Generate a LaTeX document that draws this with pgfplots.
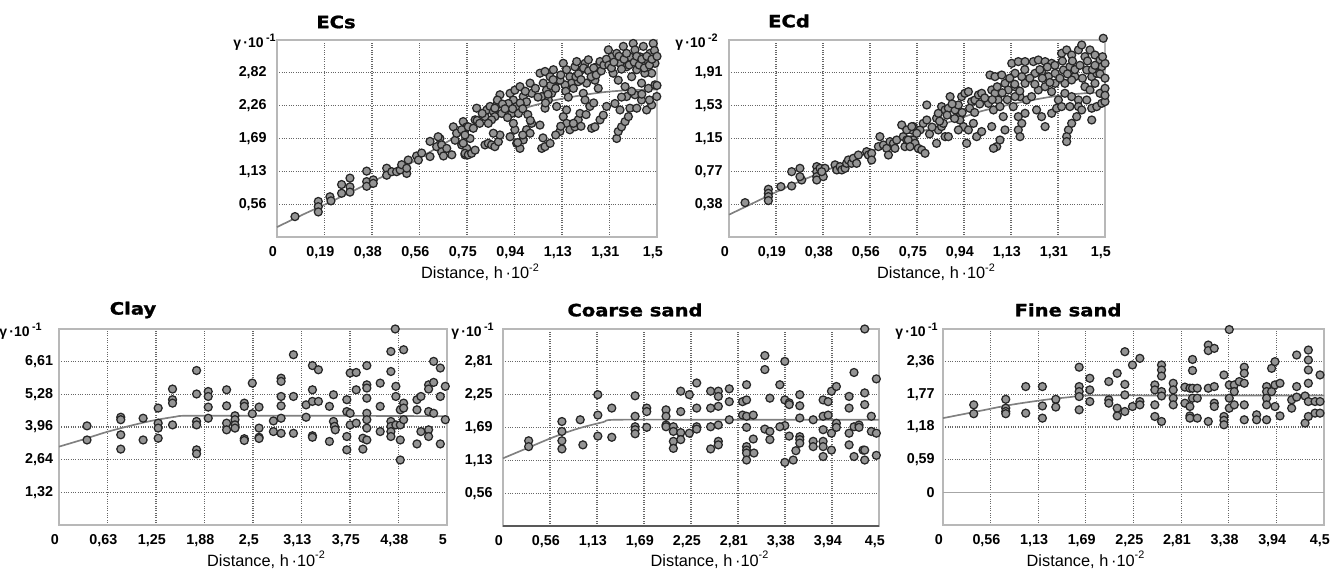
\documentclass[border=0pt]{standalone}
\usepackage{fontspec}
\setmainfont{Liberation Sans}
\newfontfamily\titlefont{DejaVu Sans}[BoldFeatures={FakeBold=1.2}]
\usepackage{pgfplots}
\pgfplotsset{compat=1.18}
\pgfplotsset{
  vario/.style={
    scale only axis, clip=false,
    axis line style={draw=black!28, line width=1pt},
    grid=major,
    major grid style={densely dotted, draw=black!60, line width=0.7pt},
    major tick length=0pt,
    tick style={draw=none},
    tick label style={font=\bfseries\fontsize{8.6}{10}\selectfont, inner sep=0pt},
    xticklabel style={anchor=base, yshift=-12pt, xshift=-2.5pt},
    yticklabel style={anchor=east},
  },
  pts/.style={only marks, mark=*, mark size=2.4pt, mark options={fill=black!42, draw=black!85, line width=0.75pt}},
  fit/.style={no marks, draw=black!50, line width=1pt, smooth},
}
\newcommand{\ylab}[1]{γ\,·10\,\raisebox{0.9ex}{\fontsize{6.5}{7}\selectfont #1}}
\newcommand{\xlab}{Distance, h\,·10\raisebox{0.9ex}{\fontsize{6.5}{7}\selectfont -2}}
\begin{document}
\begin{tikzpicture}
\path[use as bounding box] (0pt,0pt) rectangle (799.8pt,341.4pt);
%================ ECs
\begin{axis}[vario, at={(166.2pt,199.2pt)}, anchor=south west, width=228pt, height=118.2pt,
  xmin=0, xmax=1.5, ymin=0, ymax=3.38,
  xtick={0,0.1875,0.375,0.5625,0.75,0.9375,1.125,1.3125,1.5},
  xticklabels={{0},{0,19},{0,38},{0,56},{0,75},{0,94},{1,13},{1,31},{1,5}},
  ytick={0.5633,1.1267,1.69,2.2533,2.8167},
  yticklabels={{0,56},{1,13},{1,69},{2,26},{2,82}},
  yticklabel style={xshift=-6pt}]
\addplot[fit] coordinates {(0,0.17)(0.1,0.38)(0.2,0.58)(0.3,0.79)(0.4,1.0)(0.5,1.2)(0.6,1.45)(0.7,1.7)(0.8,1.92)(0.9,2.1)(1.0,2.24)(1.1,2.35)(1.2,2.43)(1.3,2.49)(1.4,2.52)(1.5,2.53)};
\addplot[pts] coordinates {
(0.071,0.35)(0.163,0.61)(0.163,0.52)(0.163,0.43)(0.209,0.69)(0.213,0.62)(0.255,0.90)(0.255,0.75)(0.288,1.01)(0.288,0.86)(0.288,0.77)(0.354,1.13)(0.354,0.95)(0.354,0.87)(0.380,0.98)(0.380,0.92)(0.433,1.18)(0.433,1.06)(0.453,1.12)(0.472,1.12)(0.486,1.15)(0.492,1.24)(0.512,1.09)(0.518,1.32)(0.512,1.18)(0.551,1.39)(0.558,1.32)(0.571,1.44)(0.604,1.64)(0.604,1.38)(0.630,1.55)(0.643,1.69)(0.650,1.58)(0.650,1.46)(0.657,1.39)(0.670,1.52)(0.690,1.41)(0.696,1.89)(0.703,1.66)(0.709,1.78)(0.729,1.58)(0.735,1.98)(0.742,1.84)(0.742,1.41)(0.749,1.89)(0.749,1.52)(0.636,1.72)
(0.729,1.84)(0.735,1.61)(0.742,1.435)(0.755,1.41)(0.768,1.435)(0.782,1.49)(0.755,1.89)(0.775,1.865)(0.782,2.01)(0.788,2.21)(0.762,1.69)(0.742,1.75)
(0.821,2.065)(0.828,2.18)(0.841,2.24)(0.854,2.15)(0.860,2.065)(0.867,2.265)(0.880,2.44)(0.887,2.12)(0.847,2.01)(0.834,1.95)(0.860,2.21)
(0.821,1.58)(0.834,1.607)(0.847,1.58)(0.860,1.55)(0.874,1.635)(0.880,1.75)(0.854,1.78)
(0.920,2.465)(0.933,2.35)(0.946,2.24)(0.939,2.52)(0.959,2.58)(0.972,2.41)(0.985,2.32)(0.999,2.64)(1.005,2.465)(0.926,2.12)(0.953,2.12)(0.913,2.29)
(0.920,1.72)(0.939,1.84)(0.946,1.607)(0.959,1.52)(0.972,1.665)(0.985,1.84)(0.999,1.78)(1.005,1.95)(0.933,1.95)
(1.038,2.81)(1.058,2.84)(1.078,2.75)(1.091,2.87)(1.051,2.64)(1.064,2.52)(1.045,2.41)(1.071,2.35)(1.084,2.465)(1.097,2.64)(1.110,2.69)(1.104,2.24)(1.058,2.21)(1.038,1.92)
(1.045,1.52)(1.058,1.55)(1.078,1.607)
(1.130,2.98)(1.143,2.87)(1.156,2.75)(1.176,2.92)(1.183,3.01)(1.163,2.64)(1.137,2.61)(1.117,2.69)(1.189,2.665)
(1.130,2.065)(1.143,1.95)(1.156,1.84)(1.176,1.89)(1.189,2.01)(1.143,2.18)(1.117,1.81)
(1.203,2.87)(1.216,2.98)(1.229,3.04)(1.242,2.81)(1.262,2.92)(1.275,3.01)(1.255,2.69)(1.222,2.64)(1.268,2.55)(1.209,2.465)(1.216,2.35)(1.235,2.24)(1.242,1.865)(1.255,1.89)(1.275,2.01)(1.288,2.09)(1.301,2.24)(1.196,2.12)
(1.308,3.21)(1.321,3.09)(1.341,3.15)(1.354,2.98)(1.367,3.27)(1.380,2.92)(1.393,3.09)(1.406,3.32)(1.327,2.81)(1.347,2.69)(1.374,2.58)(1.400,2.75)
(1.341,1.69)(1.347,1.81)(1.360,1.89)(1.374,1.98)(1.387,2.065)(1.334,2.29)(1.354,2.18)(1.393,2.21)(1.380,2.41)
(1.413,3.21)(1.433,3.09)(1.446,3.27)(1.459,3.04)(1.472,3.15)(1.485,3.32)(1.492,2.98)(1.479,2.81)(1.452,2.81)(1.420,2.87)(1.439,2.64)(1.466,2.55)(1.492,2.61)(1.439,2.35)(1.459,2.18)(1.479,2.265)(1.499,2.41)(1.420,2.21)(1.413,2.44)
(0.79,2.0)(0.80,1.95)(0.81,2.12)(0.87,2.35)(0.89,2.28)(0.90,2.2)(0.91,2.05)(0.93,2.2)(0.96,2.3)(0.97,2.2)(0.98,2.5)(0.99,2.1)(1.0,2.0)(1.02,2.55)(1.03,2.4)(1.06,2.3)(1.07,2.45)(1.08,2.6)(1.09,2.7)(1.10,2.55)(1.12,2.78)(1.14,2.5)(1.15,2.4)(1.17,2.55)(1.18,2.75)(1.19,2.8)(1.20,2.7)(1.21,2.9)(1.23,2.85)(1.24,2.75)(1.25,2.9)(1.26,2.78)(1.28,2.85)(1.29,2.95)(1.30,3.05)(1.31,2.95)(1.32,2.9)(1.33,3.0)(1.35,3.1)(1.36,2.88)(1.37,3.05)(1.38,3.15)(1.39,2.95)(1.41,3.0)(1.42,3.1)(1.43,2.95)(1.44,3.05)(1.45,2.9)(1.46,3.1)(1.47,2.95)(1.48,3.05)(1.49,3.2)(1.50,3.1)(1.50,2.6)(1.36,2.4)(1.40,2.5)(1.44,2.45)(1.47,2.35)(1.22,2.1)(1.25,2.3)(1.20,1.9)(1.17,1.95)(1.12,1.9)(1.10,1.75)(1.05,1.7)(0.97,1.75)(0.95,1.62)
};
\end{axis}
%================ ECd
\begin{axis}[vario, at={(437.4pt,199.2pt)}, anchor=south west, width=225.6pt, height=118.2pt,
  xmin=0, xmax=1.5, ymin=0, ymax=2.295,
  xtick={0,0.1875,0.375,0.5625,0.75,0.9375,1.125,1.3125,1.5},
  xticklabels={{0},{0,19},{0,38},{0,56},{0,75},{0,94},{1,13},{1,31},{1,5}},
  ytick={0.3825,0.765,1.1475,1.53,1.9125},
  yticklabels={{0,38},{0,77},{1,15},{1,53},{1,91}},
  yticklabel style={xshift=-3.6pt}]
\addplot[fit] coordinates {(0,0.26)(0.1,0.40)(0.2,0.54)(0.3,0.67)(0.4,0.79)(0.5,0.91)(0.6,1.04)(0.7,1.15)(0.8,1.26)(0.9,1.36)(1.0,1.46)(1.1,1.53)(1.2,1.59)(1.3,1.64)(1.4,1.67)(1.5,1.69)};
\addplot[pts] coordinates {
(0.064,0.40)(0.157,0.556)(0.157,0.509)(0.157,0.47)(0.157,0.424)(0.207,0.587)
(0.250,0.761)(0.250,0.594)(0.283,0.80)(0.290,0.664)(0.283,0.703)
(0.350,0.82)(0.350,0.761)(0.350,0.703)(0.350,0.664)(0.363,0.80)(0.376,0.703)(0.383,0.80)(0.370,0.761)
(0.423,0.84)(0.430,0.781)(0.443,0.82)(0.450,0.781)(0.463,0.80)(0.469,0.858)(0.476,0.897)(0.489,0.858)(0.496,0.917)(0.509,0.858)(0.516,0.955)(0.549,0.994)(0.556,0.955)(0.569,0.975)(0.569,0.897)
(0.602,1.169)(0.596,1.053)(0.616,1.072)(0.629,1.033)(0.636,0.955)(0.642,1.111)(0.656,1.091)(0.662,1.033)(0.669,1.13)(0.689,1.305)(0.695,1.169)(0.702,1.053)(0.709,1.13)(0.729,1.247)(0.735,1.286)(0.735,1.13)
(0.709,1.247)(0.715,1.13)(0.729,1.286)(0.742,1.091)(0.755,1.033)(0.769,1.014)(0.782,0.975)(0.762,1.247)(0.775,1.324)(0.789,1.363)(0.749,1.208)(0.722,1.053)(0.789,1.538)
(0.828,1.383)(0.835,1.441)(0.848,1.519)(0.862,1.48)(0.875,1.5)(0.882,1.635)(0.835,1.247)(0.848,1.286)(0.862,1.169)(0.875,1.169)(0.828,1.091)(0.855,1.324)
(0.902,1.48)(0.915,1.538)(0.921,1.402)(0.928,1.635)(0.941,1.674)(0.955,1.693)(0.968,1.577)(0.981,1.596)(0.995,1.655)(1.008,1.674)(0.935,1.286)(0.955,1.247)(0.975,1.324)(0.988,1.169)(1.008,1.228)(0.915,1.247)(0.948,1.091)(0.921,1.363)
(1.041,1.887)(1.061,1.868)(1.088,1.887)(1.048,1.713)(1.061,1.674)(1.074,1.596)(1.035,1.557)(1.055,1.48)(1.081,1.519)(1.101,1.79)(1.094,1.402)(1.101,1.247)(1.048,1.286)(1.068,1.053)(1.055,1.033)(1.081,1.13)
(1.128,2.023)(1.154,2.043)(1.181,2.043)(1.141,1.907)(1.168,1.868)(1.114,1.713)(1.141,1.751)(1.161,1.635)(1.187,1.596)(1.181,1.79)(1.134,1.519)(1.154,1.402)(1.168,1.324)(1.154,1.247)(1.161,1.169)(1.181,1.441)(1.141,1.635)
(1.214,2.043)(1.234,2.062)(1.261,2.043)(1.287,2.023)(1.221,1.907)(1.247,1.926)(1.274,1.868)(1.301,1.907)(1.234,1.713)(1.261,1.751)(1.287,1.693)(1.227,1.48)(1.247,1.402)(1.261,1.286)(1.287,1.441)(1.307,1.5)(1.314,1.596)(1.207,1.635)(1.301,1.79)
(1.327,2.14)(1.347,2.179)(1.367,2.12)(1.394,2.179)(1.407,2.237)(1.334,1.946)(1.360,1.984)(1.380,1.868)(1.340,1.79)(1.367,1.829)(1.340,1.674)(1.367,1.635)(1.394,1.596)(1.327,1.519)(1.360,1.519)(1.354,1.247)(1.347,1.169)(1.347,1.111)(1.367,1.324)(1.387,1.402)(1.394,1.519)
(1.420,2.101)(1.440,2.179)(1.460,2.12)(1.480,2.062)(1.493,2.315)(1.427,1.946)(1.447,1.868)(1.467,1.907)(1.487,1.984)(1.500,2.023)(1.420,1.751)(1.440,1.713)(1.460,1.79)(1.480,1.674)(1.500,1.732)(1.427,1.596)(1.447,1.5)(1.467,1.519)(1.487,1.557)(1.500,1.577)(1.447,1.363)(1.407,1.48)
(0.80,1.2)(0.81,1.28)(0.84,1.35)(0.87,1.42)(0.89,1.55)(0.90,1.38)(0.93,1.45)(0.96,1.5)(0.98,1.45)(1.0,1.55)(1.02,1.62)(1.05,1.6)(1.07,1.75)(1.09,1.68)(1.11,1.6)(1.12,1.85)(1.14,1.78)(1.16,1.7)(1.18,1.95)(1.20,1.85)(1.22,1.78)(1.24,1.95)(1.25,1.85)(1.27,1.98)(1.28,1.8)(1.30,2.0)(1.32,1.85)(1.33,2.05)(1.35,1.9)(1.37,2.05)(1.38,1.95)(1.40,2.0)(1.41,1.85)(1.43,2.05)(1.45,1.95)(1.46,2.0)(1.48,1.9)(1.49,2.1)(1.5,1.85)(1.5,1.65)
};
\end{axis}
%================ Clay
\begin{axis}[vario, at={(35.4pt,26.4pt)}, anchor=south west, width=232.8pt, height=117.6pt,
  xmin=0, xmax=5, ymin=0, ymax=7.93,
  xtick={0,0.625,1.25,1.875,2.5,3.125,3.75,4.375,5},
  xticklabels={{0},{0,63},{1,25},{1,88},{2,5},{3,13},{3,75},{4,38},{5}},
  ytick={1.3217,2.6433,3.965,5.2867,6.6083},
  yticklabels={{1,32},{2,64},{3,96},{5,28},{6,61}},
  yticklabel style={xshift=-3.4pt}]
\addplot[fit] coordinates {(0,3.17)(0.3,3.45)(0.6,3.75)(0.9,4.0)(1.2,4.22)(1.5,4.38)(1.65,4.42)(2.5,4.42)(3.5,4.42)(5,4.40)};
\addplot[pts] coordinates {
(0.361,4.01)(0.361,3.44)(0.796,4.36)(0.796,4.26)(0.796,3.65)(0.796,3.07)(1.084,4.32)(1.084,3.44)
(1.278,4.73)(1.278,4.12)(1.278,3.92)(1.278,3.51)(1.463,5.50)(1.463,5.07)(1.463,4.93)(1.463,4.05)
(1.773,6.25)(1.773,5.30)(1.773,4.19)(1.773,4.05)(1.773,3.04)(1.773,2.88)(1.923,5.40)(1.923,5.20)(1.923,4.77)(1.923,4.32)
(2.160,5.47)(2.160,4.82)(2.160,4.12)(2.160,3.85)(2.268,4.42)(2.268,4.26)(2.268,4.05)(2.268,3.92)
(2.388,4.93)(2.388,4.80)(2.388,3.49)(2.388,3.42)(2.491,5.74)(2.491,4.50)(2.578,4.77)(2.578,3.92)(2.578,3.55)(2.578,3.50)
(2.763,4.21)(2.763,3.78)(2.862,5.94)(2.862,5.81)(2.862,5.20)(2.862,4.82)(2.862,4.32)(2.862,3.71)
(3.021,6.89)(3.021,5.20)(3.021,3.71)(3.184,4.86)(3.184,4.36)(3.266,6.45)(3.266,5.47)(3.266,5.00)(3.266,3.61)(3.266,3.55)
(3.343,6.28)(3.343,5.00)(3.485,4.80)(3.485,3.38)(3.537,5.27)(3.537,4.19)(3.55,3.99)(3.56,3.85)
(3.709,5.07)(3.709,4.59)(3.709,3.58)(3.709,3.04)(3.752,6.15)(3.752,4.52)(3.752,4.05)(3.830,6.17)(3.830,5.47)(3.830,4.12)
(3.916,3.51)(3.916,3.07)(3.967,6.45)(3.967,5.67)(3.967,5.54)(3.967,5.13)(3.967,4.52)(3.967,4.26)(3.967,3.92)(3.967,3.44)
(4.139,5.74)(4.139,4.80)(4.139,3.78)(4.277,7.02)(4.277,6.21)(4.277,4.19)(4.277,3.99)(4.277,3.78)(4.277,3.58)
(4.333,7.93)(4.341,5.61)(4.341,5.20)(4.341,4.05)(4.398,4.66)(4.398,4.05)(4.398,3.44)(4.398,2.63)
(4.441,7.09)(4.441,4.93)(4.441,4.73)(4.441,4.26)(4.613,5.07)(4.613,4.66)(4.613,3.28)(4.664,5.20)(4.664,3.78)
(4.763,5.67)(4.763,5.50)(4.763,4.59)(4.763,3.85)(4.763,3.58)(4.828,6.62)(4.828,5.77)(4.828,4.52)
(4.914,6.35)(4.914,5.20)(4.914,3.28)(4.978,5.61)(4.978,4.26)
};
\end{axis}
%================ Coarse sand
\begin{axis}[vario, at={(301.8pt,25.8pt)}, anchor=south west, width=225.6pt, height=118.2pt,
  xmin=0, xmax=4.5, ymin=0, ymax=3.375,
  xtick={0,0.5625,1.125,1.6875,2.25,2.8125,3.375,3.9375,4.5},
  xticklabels={{0},{0,56},{1,13},{1,69},{2,25},{2,81},{3,38},{3,94},{4,5}},
  ytick={0.5625,1.125,1.6875,2.25,2.8125},
  yticklabels={{0,56},{1,13},{1,69},{2,25},{2,81}},
  yticklabel style={xshift=-6pt}]
\draw[black!65, line width=1pt] (axis cs:0,0) -- (axis cs:4.5,0);
\addplot[fit] coordinates {(0,1.16)(0.3,1.34)(0.6,1.52)(0.9,1.67)(1.2,1.78)(1.35,1.82)(2.5,1.82)(3.5,1.82)(4.5,1.82)};
\addplot[pts] coordinates {
(0.307,1.46)(0.307,1.36)(0.705,1.79)(0.705,1.62)(0.705,1.46)(0.705,1.32)(0.924,1.82)(0.956,1.39)
(1.135,2.25)(1.135,1.90)(1.135,1.54)(1.302,2.02)(1.302,1.52)
(1.581,2.23)(1.581,1.88)(1.581,1.70)(1.581,1.65)(1.581,1.58)(1.720,2.02)(1.720,1.96)(1.720,1.69)
(1.951,1.99)(1.951,1.88)(1.951,1.73)(1.951,1.70)(2.039,1.70)(2.039,1.62)(2.039,1.45)(2.039,1.33)
(2.127,2.31)(2.127,1.96)(2.127,1.60)(2.127,1.48)(2.230,2.25)(2.230,1.59)(2.318,2.45)(2.318,2.02)(2.318,1.70)(2.318,1.66)
(2.485,2.31)(2.485,2.02)(2.485,1.70)(2.485,1.32)(2.577,2.31)(2.577,2.22)(2.577,2.05)(2.577,1.73)(2.577,1.45)(2.577,1.39)
(2.708,2.35)(2.708,2.13)(2.708,1.82)(2.867,2.13)(2.867,1.90)(2.915,2.42)(2.915,2.16)(2.915,1.88)(2.915,1.69)(2.915,1.36)(2.915,1.30)(2.915,1.25)(2.915,1.13)(2.995,1.90)(2.995,1.49)(3.003,1.25)
(3.134,2.92)(3.134,2.68)(3.134,1.66)(3.194,2.19)(3.194,1.62)(3.194,1.48)(3.373,2.82)(3.373,2.16)(3.373,1.72)(3.373,1.09)(3.313,2.42)(3.313,1.70)
(3.425,2.11)(3.425,2.08)(3.425,1.54)(3.473,1.13)(3.505,1.29)(3.552,2.25)(3.552,2.06)(3.552,1.85)(3.552,1.53)(3.552,1.48)(3.552,1.42)
(3.712,1.82)(3.712,1.45)(3.712,1.36)(3.831,2.16)(3.831,1.88)(3.831,1.65)(3.831,1.45)(3.831,1.36)(3.831,1.19)(3.891,2.13)(3.891,1.90)
(3.931,2.31)(3.931,1.59)(3.931,1.30)(3.990,2.39)(3.990,1.76)(3.990,1.69)(4.142,2.22)(4.142,2.02)(4.142,1.59)(4.142,1.39)
(4.201,2.63)(4.201,1.70)(4.201,1.19)(4.261,1.73)(4.261,1.69)(4.309,1.30)(4.329,3.375)(4.329,2.28)(4.329,2.08)(4.329,1.30)(4.329,1.13)
(4.408,1.88)(4.408,1.62)(4.468,2.52)(4.468,1.59)(4.468,1.21)
};
\end{axis}
%================ Fine sand
\begin{axis}[vario, at={(565.8pt,26.4pt)}, anchor=south west, width=228.6pt, height=117.6pt,
  xmin=0, xmax=4.5, ymin=-0.59, ymax=2.95,
  xtick={0,0.5625,1.125,1.6875,2.25,2.8125,3.375,3.9375,4.5},
  xticklabels={{0},{0,56},{1,13},{1,69},{2,25},{2,81},{3,38},{3,94},{4,5}},
  ytick={0,0.59,1.18,1.77,2.36},
  yticklabels={{0},{0,59},{1,18},{1,77},{2,36}},
  yticklabel style={xshift=-4.8pt}]
\draw[black!35, line width=0.8pt] (axis cs:0,0) -- (axis cs:4.5,0);
\addplot[fit] coordinates {(0,1.34)(0.4,1.46)(0.8,1.58)(1.2,1.67)(1.5,1.72)(1.7,1.75)(2.5,1.75)(3.5,1.75)(4.5,1.75)};
\addplot[pts] coordinates {
(0.363,1.58)(0.363,1.42)(0.741,1.68)(0.741,1.52)(0.741,1.46)(0.741,1.42)(0.977,1.91)(0.977,1.43)
(1.174,1.91)(1.174,1.56)(1.174,1.34)(1.332,1.68)(1.332,1.54)
(1.608,2.26)(1.608,1.91)(1.608,1.82)(1.608,1.73)(1.608,1.49)(1.734,2.06)(1.734,1.85)(1.734,1.64)
(1.958,2.00)(1.958,1.67)(1.958,1.61)(2.057,2.15)(2.057,1.52)(2.057,1.38)(2.148,2.54)(2.148,1.95)(2.148,1.76)(2.148,1.46)
(2.238,2.30)(2.238,1.55)(2.325,2.42)(2.325,1.64)(2.325,1.58)(2.502,1.94)(2.502,1.85)(2.502,1.58)(2.502,1.37)
(2.581,2.30)(2.581,2.21)(2.581,2.10)(2.581,1.82)(2.581,1.74)(2.581,1.28)(2.719,1.97)(2.719,1.85)(2.719,1.70)(2.719,1.58)
(2.857,1.90)(2.857,1.61)(2.916,1.88)(2.916,1.55)(2.916,1.38)(2.916,1.34)(2.947,2.40)(2.947,2.20)(2.947,1.88)(2.947,1.70)
(3.003,1.88)(3.003,1.70)(3.003,1.34)(3.133,2.66)(3.133,2.56)(3.133,1.88)(3.133,1.28)(3.204,2.60)(3.204,1.91)(3.204,1.61)(3.204,1.55)
(3.318,2.12)(3.318,1.37)(3.318,1.30)(3.318,1.22)(3.381,2.94)(3.381,1.94)(3.381,1.70)(3.381,1.52)(3.440,1.94)(3.440,1.82)(3.440,1.58)
(3.499,2.00)(3.558,2.26)(3.558,2.15)(3.558,1.97)(3.558,1.58)(3.558,1.31)(3.704,1.40)(3.704,1.31)
(3.822,1.91)(3.822,1.82)(3.822,1.70)(3.822,1.58)(3.822,1.31)(3.881,2.24)(3.881,1.82)(3.921,2.36)(3.921,1.94)(3.921,1.55)(3.980,1.97)(3.980,1.38)
(4.118,1.67)(4.118,1.52)(4.177,2.48)(4.177,1.91)(4.177,1.72)(4.276,1.74)(4.276,1.25)
(4.315,2.57)(4.315,2.39)(4.315,2.21)(4.315,1.97)(4.315,1.64)(4.315,1.37)(4.394,1.64)(4.394,1.43)(4.453,2.12)(4.453,1.64)(4.453,1.43)
};
\end{axis}
%================ titles and labels
\begin{scope}[every node/.style={font=\titlefont\bfseries\fontsize{10.2}{12}\selectfont, xscale=1.15}]
\node at (201.6pt,328.2pt) {ECs};
\node at (473.4pt,328.8pt) {ECd};
\node at (79.8pt,155.4pt) {Clay};
\node at (381pt,155.4pt) {Coarse sand};
\node at (640.8pt,155.4pt) {Fine sand};
\end{scope}
\begin{scope}[every node/.style={font=\bfseries\fontsize{8.4}{10}\selectfont, anchor=base east, inner sep=0pt}]
\node at (165.6pt,312.6pt) {\ylab{-1}};
\node at (430.8pt,312.6pt) {\ylab{-2}};
\node at (25.2pt,139.2pt) {\ylab{-1}};
\node at (296.4pt,139.2pt) {\ylab{-1}};
\node at (562.8pt,139.2pt) {\ylab{-1}};
\end{scope}
\begin{scope}[every node/.style={font=\fontsize{9.8}{11}\selectfont, anchor=base, inner sep=0pt}]
\node at (288pt,174pt) {\xlab};
\node at (561.6pt,174pt) {\xlab};
\node at (159.6pt,1.6pt) {\xlab};
\node at (425.7pt,1.6pt) {\xlab};
\node at (651.3pt,1.6pt) {\xlab};
\end{scope}
\end{tikzpicture}
\end{document}
